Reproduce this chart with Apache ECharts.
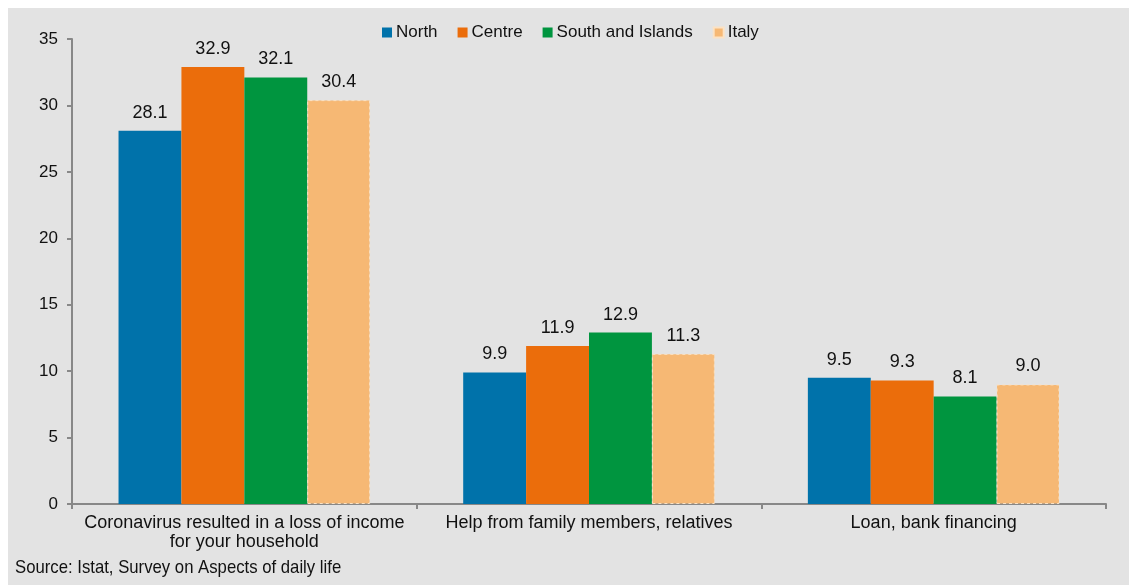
<!DOCTYPE html>
<html>
<head>
<meta charset="utf-8">
<script src="https://cdn.jsdelivr.net/npm/echarts@6/dist/echarts.min.js"></script>
<style>
  html, body { margin: 0; padding: 0; background: #ffffff; }
  #chart { width: 1129px; height: 585px; }
</style>
</head>
<body>
<div id="chart"></div>
<script>
// categories on the x axis
var categories = [
  'Coronavirus resulted in a loss of income\nfor your household',
  'Help from family members, relatives',
  'Loan, bank financing'
]
// values per area
var north = [28.1, 9.9, 9.5]
var centre = [32.9, 11.9, 9.3]
var southIslands = [32.1, 12.9, 8.1]
var italy = [30.4, 11.3, 9.0]
var seriesNames = ['North', 'Centre', 'South and Islands', 'Italy']
var colors = ['#0072aa', '#eb6d0b', '#00953f', '#f6b874']

var font = 'Arial, "Liberation Sans", sans-serif'
var myChart = echarts.init(document.getElementById('chart'))

function makeSeries (name, data, color, dashed) {
  var s = {
    name: name,
    type: 'bar',
    data: data,
    barGap: '0%',
    barCategoryGap: '27%',
    itemStyle: { color: color },
    label: {
      show: true,
      position: 'top',
      distance: 9,
      color: '#111',
      fontFamily: font,
      fontSize: 18,
      formatter: function (p) { return p.value.toFixed(1) }
    }
  }
  if (dashed) {
    // Italy bar has a light dashed outline
    s.itemStyle.borderColor = '#fbe2c4'
    s.itemStyle.borderWidth = 1
    s.itemStyle.borderType = [3, 3]
  }
  return s
}

var option = {
  animation: false,
  color: colors,
  graphic: [{
    type: 'rect',
    z: -10,
    shape: { x: 8, y: 8, width: 1121, height: 577 },
    style: { fill: '#e3e3e3' }
  }, {
    type: 'text',
    x: 15,
    y: 558,
    scaleX: 0.88,
    style: {
      text: 'Source: Istat, Survey on Aspects of daily life',
      fontFamily: font,
      fontSize: 19,
      fill: '#111'
    }
  }],
  legend: {
    top: 24,
    left: 382,
    padding: 0,
    itemWidth: 10,
    itemHeight: 10,
    itemGap: 20,
    icon: 'rect',
    selectedMode: false,
    textStyle: { color: '#111', fontFamily: font, fontSize: 17, padding: [0, 0, 0, -1] },
    data: seriesNames
  },
  grid: { left: 72, right: 23, top: 39, bottom: 81, containLabel: false },
  xAxis: {
    type: 'category',
    data: categories,
    axisLine: { lineStyle: { color: '#888', width: 2 } },
    axisTick: { show: true, length: 5, lineStyle: { color: '#888', width: 2 } },
    axisLabel: {
      interval: 0,
      color: '#111',
      fontFamily: font,
      fontSize: 18,
      margin: 10,
      lineHeight: 19
    }
  },
  yAxis: {
    type: 'value',
    min: 0,
    max: 35,
    interval: 5,
    axisLine: { show: true, lineStyle: { color: '#888', width: 2 } },
    axisTick: { show: true, length: 5, lineStyle: { color: '#888', width: 2 } },
    axisLabel: { color: '#111', fontFamily: font, fontSize: 17, margin: 14 },
    splitLine: { show: false }
  },
  series: [
    makeSeries(seriesNames[0], north, colors[0]),
    makeSeries(seriesNames[1], centre, colors[1]),
    makeSeries(seriesNames[2], southIslands, colors[2]),
    makeSeries(seriesNames[3], italy, colors[3], true)
  ]
}
myChart.setOption(option)
</script>
</body>
</html>
